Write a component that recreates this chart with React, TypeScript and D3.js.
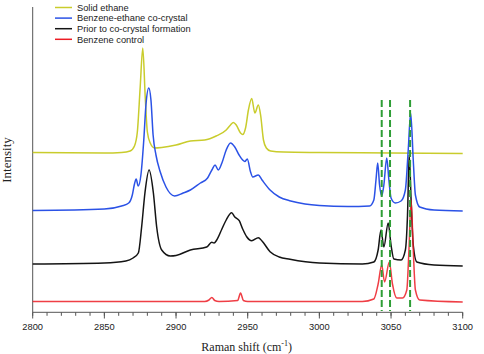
import * as d3 from "d3";

// wavenumber (cm-1) / intensity (a.u., offset traces)
const ethaneX = [2800, 2850, 2862, 2868, 2871, 2873, 2875, 2876.8, 2878.5, 2880, 2882, 2885, 2890, 2900, 2910, 2920, 2928, 2935, 2938, 2940, 2942, 2945, 2946.5, 2948.5, 2950.5, 2952.8, 2955, 2957.4, 2959, 2961, 2963, 2966, 2975, 3000, 3050, 3100];
const ethaneY = [159.5, 159, 159.5, 161, 166, 180, 225, 264, 215, 180, 169, 164, 164.5, 167, 171, 172, 176, 182, 187, 189.5, 187, 179, 177.5, 184, 202, 213.5, 199, 207, 197, 172, 164, 161, 160, 159.5, 159, 158.5];

const cocrystalX = [2800, 2850, 2862, 2867, 2869.5, 2871, 2872.2, 2873.6, 2875.5, 2877.5, 2879, 2881, 2882.5, 2884, 2886, 2889, 2893, 2899, 2905, 2910, 2917, 2922, 2925, 2927.2, 2929.5, 2932, 2935, 2938, 2941, 2944, 2946.5, 2948, 2949.7, 2952, 2953.5, 2957.4, 2960, 2965.6, 2972, 2980, 2990, 3000, 3020, 3035, 3038, 3039.5, 3040.7, 3042, 3043.5, 3045, 3047, 3048.5, 3050, 3053, 3057, 3060, 3062, 3063.7, 3065.5, 3067, 3070, 3080, 3100];
const cocrystalY = [101.5, 103, 106, 109, 117, 128, 133, 126, 137, 172, 207, 224, 212, 177, 157, 140, 125, 116, 119, 122, 129, 134, 142, 147, 142, 149, 162, 169, 165, 157, 152, 150.5, 153, 140, 135, 137, 132, 122, 115, 111, 108, 106.5, 105.5, 106, 112, 132, 149, 127, 116, 127, 154, 132, 114, 109, 111, 122, 162, 199, 152, 117, 105, 102, 101];

const priorX = [2800, 2850, 2865, 2870, 2873.7, 2876, 2878.3, 2881.2, 2884.2, 2886.5, 2890, 2896, 2900, 2910, 2921.4, 2924.9, 2926.5, 2928.4, 2932, 2935, 2938.8, 2941, 2944.1, 2946.5, 2949.3, 2952.8, 2957.4, 2960, 2965.6, 2972, 2979.5, 3000, 3030, 3038, 3041, 3043, 3045, 3048, 3050, 3052, 3057, 3060, 3061.5, 3062.7, 3064, 3065.5, 3068, 3080, 3100];
const priorY = [48, 49, 51, 54, 59, 85, 119, 142, 119, 85, 62, 56, 56.5, 62, 65, 69.7, 69, 72, 83, 92, 99.3, 95, 91.3, 83, 75.3, 71.3, 74.3, 71, 60.3, 55, 52.7, 49, 48, 50, 62, 82, 65, 89, 67, 53, 52, 62, 97, 157, 112, 67, 50, 47, 46];

const benzeneX = [2800, 2920, 2923, 2925, 2927, 2930, 2943, 2945, 2947, 2950, 3030, 3038, 3041, 3043.5, 3045.5, 3048.8, 3051, 3054, 3058, 3061, 3062.5, 3064, 3065.5, 3067, 3070, 3100];
const benzeneY = [10.5, 10.5, 12, 14.5, 11.5, 10.5, 11.5, 19, 11.5, 10.5, 10.5, 13, 28, 47, 30, 50, 28, 14, 14, 22, 62, 112, 62, 22, 12, 10];

const seriesNames = ["Solid ethane", "Benzene-ethane co-crystal", "Prior to co-crystal formation", "Benzene control"];
const seriesColors = ["#c9cc2c", "#2b52e6", "#141414", "#ec1c24"];
const markers = [3043.5, 3049.3, 3063.3];
const xTicks = [2800, 2850, 2900, 2950, 3000, 3050, 3100];

const W = 484;
const H = 354;

export default function App() {
  const x = d3.scaleLinear().domain([2800, 3100]).range([32.7, 462.7]);
  const y = d3.scaleLinear().domain([0, 304]).range([312, 8]);

  const gen = d3
    .line<[number, number]>()
    .x((d) => x(d[0]))
    .y((d) => y(d[1]))
    .curve(d3.curveMonotoneX);

  const traces = [
    d3.zip(ethaneX, ethaneY),
    d3.zip(cocrystalX, cocrystalY),
    d3.zip(priorX, priorY),
    d3.zip(benzeneX, benzeneY),
  ] as [number, number][][];

  const minor = d3.range(2800, 3101, 10);

  return (
    <svg
      width={W}
      height={H}
      style={{ position: "absolute", left: 0, top: 0, background: "#fff" }}
    >
      {/* y axis line, no ticks */}
      <line x1={32.7} x2={32.7} y1={7} y2={312.3} stroke="#555" strokeWidth={1} />
      {/* x axis */}
      <line x1={32.7} x2={462.7} y1={312.3} y2={312.3} stroke="#555" strokeWidth={1} />
      {minor.map((t) => (
        <line key={"m" + t} x1={x(t)} x2={x(t)} y1={312.3} y2={315.8} stroke="#555" strokeWidth={1} />
      ))}
      {xTicks.map((t) => (
        <g key={t}>
          <line x1={x(t)} x2={x(t)} y1={312.3} y2={318.5} stroke="#555" strokeWidth={1} />
          <text
            x={x(t)}
            y={330}
            textAnchor="middle"
            fontFamily="Liberation Sans, Arial, sans-serif"
            fontSize={9.3}
            fill="#222"
          >
            {t}
          </text>
        </g>
      ))}

      {traces.map((pts, i) => (
        <path
          key={i}
          d={gen(pts) ?? ""}
          fill="none"
          stroke={seriesColors[i]}
          strokeWidth={1.5}
          strokeOpacity={i === 3 ? 0.85 : 1}
        />
      ))}

      {markers.map((m) => (
        <line
          key={m}
          x1={x(m)}
          x2={x(m)}
          y1={100}
          y2={311}
          stroke="#2f9e36"
          strokeWidth={2}
          strokeDasharray="7,3"
        />
      ))}

      {/* legend */}
      {seriesNames.map((name, i) => (
        <g key={name} transform={`translate(55, ${7.5 + i * 10.6})`}>
          <line x1={0} x2={17} y1={0} y2={0} stroke={seriesColors[i]} strokeWidth={1.5} />
          <text
            x={22}
            y={3.3}
            fontFamily="Liberation Sans, Arial, sans-serif"
            fontSize={9.3}
            fill="#222"
          >
            {name}
          </text>
        </g>
      ))}

      <text
        x={246.7}
        y={351}
        textAnchor="middle"
        fontFamily="Liberation Serif, Times New Roman, serif"
        fontSize={12}
        fill="#222"
      >
        Raman shift (cm
        <tspan fontSize={8} dy={-5}>-1</tspan>
        <tspan dy={5}>)</tspan>
      </text>
      <text
        transform="translate(10.5, 160) rotate(-90)"
        textAnchor="middle"
        fontFamily="Liberation Serif, Times New Roman, serif"
        fontSize={13}
        fill="#222"
      >
        Intensity
      </text>
    </svg>
  );
}
